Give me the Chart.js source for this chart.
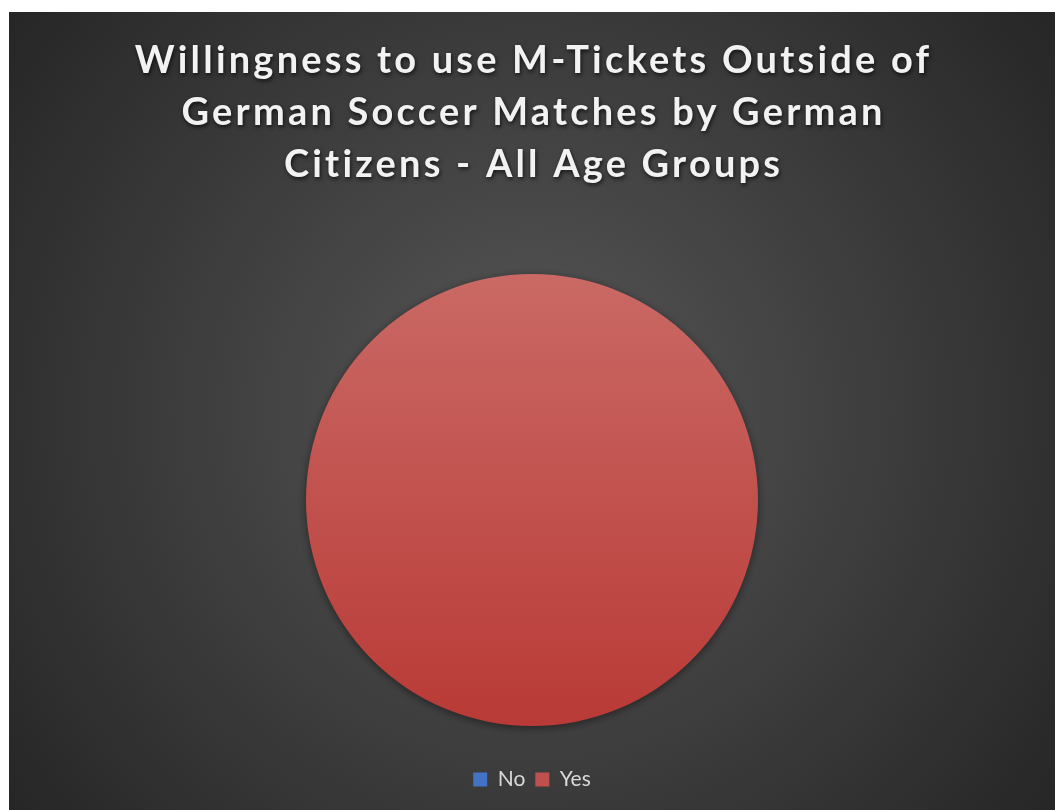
<!DOCTYPE html>
<html>
<head>
<meta charset="utf-8">
<script src="https://cdn.jsdelivr.net/npm/chart.js@4.4.1/dist/chart.umd.min.js"></script>
<style>
  html, body { margin: 0; padding: 0; background: #ffffff; }
  #wrap { position: absolute; left: 9px; top: 12px; width: 1046px; height: 798px; }
</style>
</head>
<body>
<div id="wrap"><canvas id="chart"></canvas></div>
<script>
// Survey answers: share of respondents willing to use M-Tickets (percent)
const categories = ['No', 'Yes'];
const shares = [0, 100];
const titleLines = [
  'Willingness to use M-Tickets Outside of',
  'German Soccer Matches by German',
  'Citizens - All Age Groups'
];

const FONT = 'Lato, "Open Sans", sans-serif';

// Dark radial backdrop behind the whole chart
const backdrop = {
  id: 'backdrop',
  beforeDraw(chart) {
    const { ctx, width, height } = chart;
    const cx = width / 2, cy = height * 0.5;
    const g = ctx.createRadialGradient(cx, cy, 0, cx, cy, Math.hypot(cx, cy));
    g.addColorStop(0, '#575757');
    g.addColorStop(1, '#262626');
    ctx.save();
    ctx.fillStyle = g;
    ctx.fillRect(0, 0, width, height);
    ctx.restore();
  }
};

// Soft drop shadow under the pie
const pieShadow = {
  id: 'pieShadow',
  beforeDatasetsDraw(chart) {
    const ctx = chart.ctx;
    ctx.save();
    ctx.shadowColor = 'rgba(0,0,0,0.45)';
    ctx.shadowBlur = 8;
    ctx.shadowOffsetX = 0;
    ctx.shadowOffsetY = 2;
  },
  afterDatasetsDraw(chart) {
    chart.ctx.restore();
  }
};

// Spaced, shadowed title lines
const spacedTitle = {
  id: 'spacedTitle',
  afterDraw(chart) {
    const ctx = chart.ctx;
    const spacing = 3.2;
    ctx.save();
    ctx.font = 'bold 38px ' + FONT;
    ctx.letterSpacing = spacing + 'px';
    ctx.textAlign = 'center';
    ctx.textBaseline = 'alphabetic';
    ctx.fillStyle = '#f2f2f2';
    ctx.shadowColor = 'rgba(0,0,0,0.7)';
    ctx.shadowBlur = 4;
    ctx.shadowOffsetX = 1;
    ctx.shadowOffsetY = 2;
    titleLines.forEach((line, i) => {
      ctx.fillText(line, chart.width / 2 + spacing / 2, 61 + i * 52);
    });
    ctx.restore();
  }
};

function sliceFill(context) {
  const chart = context.chart;
  const area = chart.chartArea;
  if (!area) return context.dataIndex === 0 ? '#4472C4' : '#C0504D';
  const cy = (area.top + area.bottom) / 2;
  const r = 226;
  const g = chart.ctx.createLinearGradient(0, cy - r, 0, cy + r);
  if (context.dataIndex === 0) {
    g.addColorStop(0, '#6a8fd0');
    g.addColorStop(1, '#3a67b8');
  } else {
    g.addColorStop(0, '#CA6965');
    g.addColorStop(1, '#B93A36');
  }
  return g;
}

new Chart(document.getElementById('chart'), {
  type: 'pie',
  data: {
    labels: categories,
    datasets: [{
      data: shares,
      backgroundColor: sliceFill,
      borderWidth: 0,
      radius: 226
    }]
  },
  options: {
    responsive: true,
    maintainAspectRatio: false,
    animation: false,
    layout: { padding: { top: 229, bottom: 10, left: 0, right: 0 } },
    plugins: {
      title: { display: false },
      tooltip: { enabled: false },
      legend: {
        position: 'bottom',
        labels: {
          color: '#d9d9d9',
          font: { family: FONT, size: 21 },
          boxWidth: 14,
          boxHeight: 14,
          padding: 10,
          generateLabels(chart) {
            const solid = ['#4472C4', '#C0504D'];
            return categories.map((c, i) => ({
              text: c,
              fillStyle: solid[i],
              strokeStyle: solid[i],
              lineWidth: 0,
              fontColor: '#d9d9d9',
              hidden: false,
              index: i
            }));
          }
        }
      }
    }
  },
  plugins: [backdrop, pieShadow, spacedTitle]
});
</script>
</body>
</html>
